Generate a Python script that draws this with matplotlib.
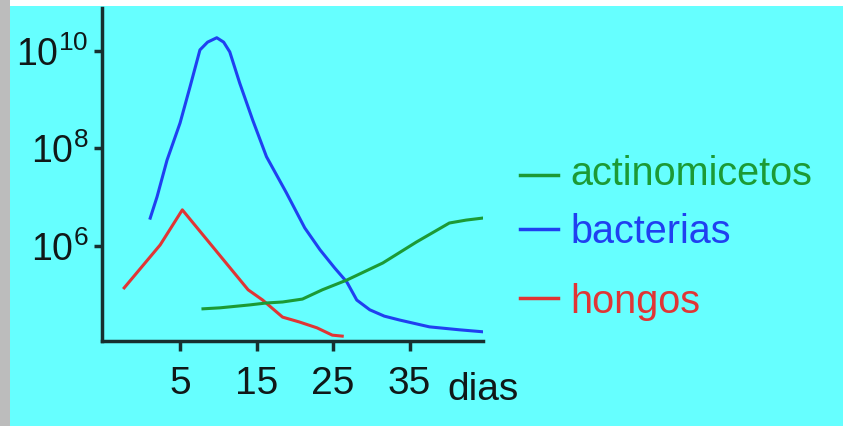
import numpy as np
import matplotlib.pyplot as plt
from matplotlib.lines import Line2D
from matplotlib.patches import Rectangle

plt.rcParams['font.family'] = ['Liberation Sans', 'DejaVu Sans']
plt.rcParams['mathtext.fontset'] = 'custom'
plt.rcParams['mathtext.rm'] = 'Liberation Sans'
plt.rcParams['mathtext.it'] = 'Liberation Sans'
plt.rcParams['mathtext.bf'] = 'Liberation Sans:bold'

# data (days, log10 of count)
bact_days = [1.1, 2.0, 3.3, 5.0, 6.3, 7.6, 8.6, 9.8, 10.7, 11.5, 12.8, 14.5, 16.3,
             18.9, 21.3, 23.3, 25.2, 26.8, 28.1, 29.8, 31.7, 33.7, 37.6, 41.5, 44.5]
bact_log = [6.57, 7.01, 7.76, 8.52, 9.26, 10.02, 10.18, 10.27, 10.18, 9.98, 9.34, 8.58, 7.83,
            7.09, 6.37, 5.92, 5.55, 5.26, 4.89, 4.69, 4.56, 4.48, 4.34, 4.28, 4.24]

hong_days = [-2.3, 2.4, 5.3, 13.9, 15.8, 18.4, 20.6, 22.9, 24.9, 26.2]
hong_log = [5.14, 6.02, 6.74, 5.10, 4.89, 4.54, 4.44, 4.32, 4.17, 4.15]

act_days = [8.0, 10.2, 14.1, 16.3, 18.4, 21.0, 23.6, 26.8, 31.5, 35.9, 40.2, 42.4, 44.5]
act_log = [4.71, 4.73, 4.79, 4.83, 4.85, 4.91, 5.10, 5.30, 5.65, 6.08, 6.47, 6.53, 6.57]

x_ticks = [5, 15, 25, 35]
y_ticks = [1e6, 1e8, 1e10]
y_labels = ['$10^{6}$', '$10^{8}$', '$10^{10}$']

green = '#1c9a35'
blue = '#2040f0'
red = '#e03535'
axis_col = '#173030'
text_col = '#101818'

fig = plt.figure(figsize=(8.43, 4.26), dpi=100)
fig.patch.set_facecolor('#66ffff')
fig.add_artist(Rectangle((0, 0), 10 / 843, 1, transform=fig.transFigure,
                         facecolor='#bcbcbc', edgecolor='none'))
fig.add_artist(Rectangle((10 / 843, 1 - 6 / 426), 1, 6 / 426, transform=fig.transFigure,
                         facecolor='white', edgecolor='none'))

ax = fig.add_axes([102 / 843, (426 - 341) / 426, (483 - 102) / 843, (341 - 8) / 426])
ax.set_facecolor('none')

ax.plot(bact_days, 10 ** np.array(bact_log), color=blue, lw=2.2)
ax.plot(hong_days, 10 ** np.array(hong_log), color=red, lw=2.2)
ax.plot(act_days, 10 ** np.array(act_log), color=green, lw=2.2)

ax.set_yscale('log')
ax.set_xlim(-5.2, 44.6)
ax.set_ylim(10 ** 4.05, 10 ** 10.88)

ax.spines['top'].set_visible(False)
ax.spines['right'].set_visible(False)
for s in ['left', 'bottom']:
    ax.spines[s].set_linewidth(2.5)
    ax.spines[s].set_color(axis_col)

ax.set_xticks(x_ticks)
ax.set_xticklabels([str(t) for t in x_ticks])
ax.set_yticks(y_ticks)
ax.set_yticklabels(y_labels)
ax.minorticks_off()
ax.tick_params(axis='x', length=7, width=2.5, color=axis_col, pad=11,
               labelsize=28, labelcolor=text_col)
ax.tick_params(axis='y', length=6, width=2.5, color=axis_col, pad=4,
               labelsize=27, labelcolor=text_col)

fig.text(447 / 843, 1 - 400 / 426, 'dias', fontsize=28, color=text_col,
         ha='left', va='baseline')

# legend drawn by hand
legend_items = [('actinomicetos', green, 175, 185),
                ('bacterias', blue, 229, 243),
                ('hongos', red, 298, 313)]
for label, col, ly, by in legend_items:
    fig.add_artist(Line2D([520 / 843, 558 / 843], [1 - ly / 426, 1 - ly / 426],
                          transform=fig.transFigure, color=col, lw=2.5))
    fig.text(570 / 843, 1 - by / 426, label, fontsize=28.5, color=col,
             ha='left', va='baseline')

fig.savefig('out.png', dpi=100, facecolor=fig.get_facecolor())
